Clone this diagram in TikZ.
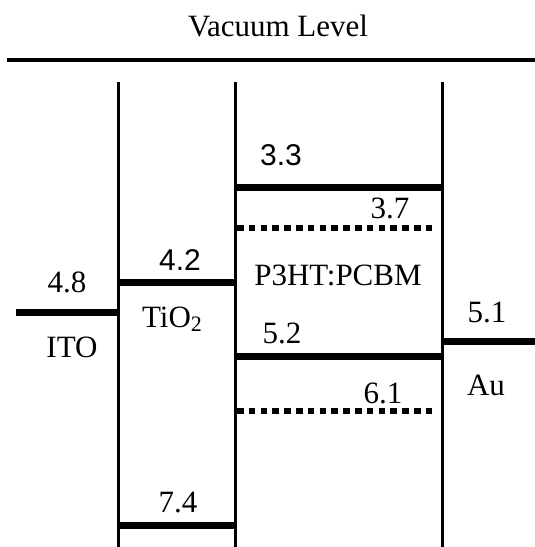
\documentclass[tikz,border=0pt]{standalone}
\usepackage{fontspec}
\setmainfont{Liberation Serif}
\newfontfamily\sansnum{Liberation Sans}
\begin{document}
\begin{tikzpicture}[x=1pt,y=-1pt,
  lbl/.style={anchor=base,inner sep=0pt,font=\fontsize{31}{34}\selectfont},
  slbl/.style={anchor=base,inner sep=0pt,font=\fontsize{30}{34}\selectfont\sansnum},
  wall/.style={line width=3pt},
  level/.style={line width=7pt},
  dlevel/.style={line width=6.5pt,dash pattern=on 6.5pt off 5.3pt},
  vac/.style={line width=4pt}]
\useasboundingbox (0,0) rectangle (535,547);
% coordinates
\coordinate (vacL) at (7,60);
\coordinate (vacR) at (535,60);
\coordinate (w1t) at (118,82); \coordinate (w1b) at (118,547);
\coordinate (w2t) at (235,82); \coordinate (w2b) at (235,547);
\coordinate (w3t) at (442,82); \coordinate (w3b) at (442,547);
\coordinate (itoL) at (16,312); \coordinate (itoR) at (118,312);
\coordinate (tioL) at (118,282); \coordinate (tioR) at (235,282);
\coordinate (tiovL) at (118,525); \coordinate (tiovR) at (235,525);
\coordinate (lumoL) at (235,187); \coordinate (lumoR) at (442,187);
\coordinate (pcbmL) at (237,228); \coordinate (pcbmR) at (437,228);
\coordinate (homoL) at (235,356); \coordinate (homoR) at (442,356);
\coordinate (pchL) at (237,411); \coordinate (pchR) at (437,411);
\coordinate (auL) at (442,341); \coordinate (auR) at (535,341);
% lines
\draw[vac] (vacL) -- (vacR);
\draw[wall] (w1t) -- (w1b);
\draw[wall] (w2t) -- (w2b);
\draw[wall] (w3t) -- (w3b);
\draw[level] (itoL) -- (itoR);
\draw[level] (tioL) -- (tioR);
\draw[level] (tiovL) -- (tiovR);
\draw[level] (lumoL) -- (lumoR);
\draw[dlevel] (pcbmL) -- (pcbmR);
\draw[level] (homoL) -- (homoR);
\draw[dlevel] (pchL) -- (pchR);
\draw[level] (auL) -- (auR);
% labels
\node[lbl] (vt) at (278,36) {Vacuum Level};
\node[lbl] (n48) at (67,292) {4.8};
\node[lbl] (ito) at (72,357) {ITO};
\node[slbl] (n42) at (180,270) {4.2};
\node[lbl] (tio) at (172,327) {TiO\raisebox{-0.3ex}{\fontsize{22}{22}\selectfont 2}};
\node[lbl] (n74) at (178,512) {7.4};
\node[slbl] (n33) at (281,165) {3.3};
\node[lbl] (n37) at (390,218) {3.7};
\node[lbl] (pp) at (338,285) {P3HT:PCBM};
\node[lbl] (n52) at (282,343) {5.2};
\node[lbl] (n61) at (383,403) {6.1};
\node[lbl] (n51) at (487,322) {5.1};
\node[lbl] (au) at (486,395) {Au};
\end{tikzpicture}
\end{document}
